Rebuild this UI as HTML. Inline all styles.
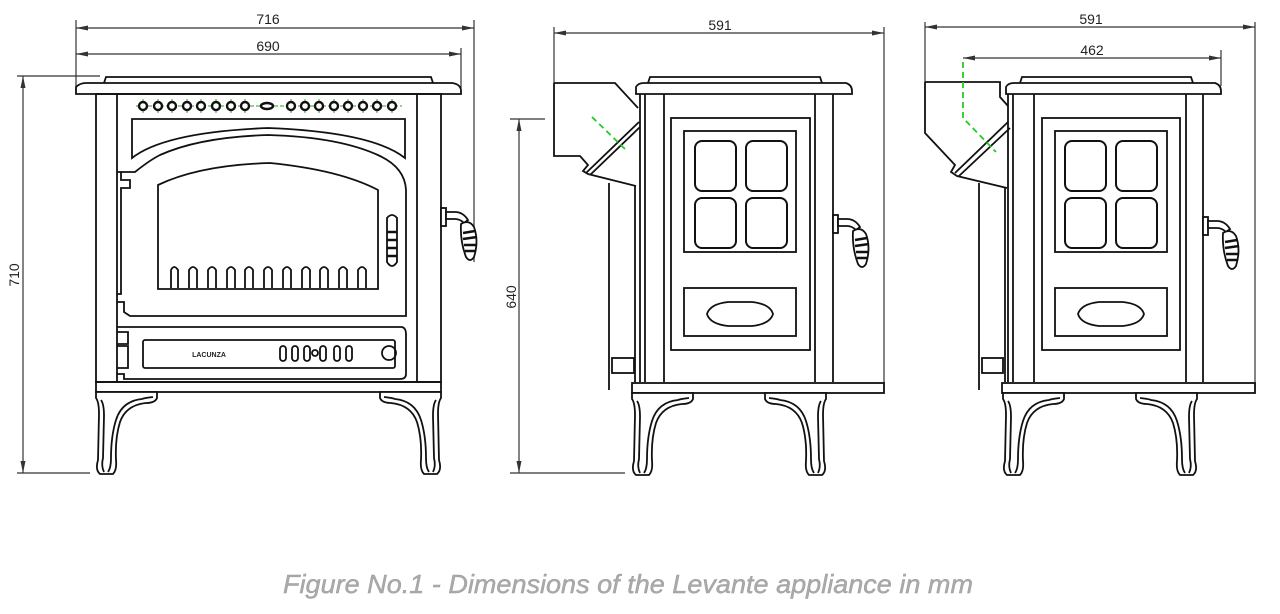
<!DOCTYPE html>
<html><head><meta charset="utf-8"><style>
html,body{margin:0;padding:0;background:#fff;}
svg{display:block;}
</style></head><body>
<svg width="1280" height="614" viewBox="0 0 1280 614" xmlns="http://www.w3.org/2000/svg">
<defs>
<g id="leg" fill="#fff" stroke="#111" stroke-width="1.8">
<path d="M0,0 L61,0 L61,6 Q59,11 50,11 Q30,13 24,30 Q19,46 20,68 Q21,78 17,82 L4,82 Q-1,78 2,68 L3,22 Q3,10 0,6 Z"/>
<path d="M8,80 Q5,74 7,66 L8,24 Q8,12 5,8" fill="none"/>
<path d="M57,5 Q48,6 46,7 Q26,9 20,28 Q15,44 15,66 Q15,76 12,80" fill="none"/>
</g>
<g id="handle" fill="#fff" stroke="#111" stroke-width="1.8">
<rect x="0" y="3" width="5" height="18"/>
<path d="M5,7 L14,7 Q22,7 27,15 L23,18 Q19,14 14,14 L5,14 Z"/>
<path d="M20,19 Q28,14 33,22 Q38,36 33,52 Q29,58 25,52 Q19,36 20,19 Z"/>
<path d="M22,28 L34,26 M22,34 L36,32 M23,40 L35,40 M24,46 L34,46" fill="none" stroke-width="2.5"/>
</g>
<g id="pane" fill="none" stroke="#111" stroke-width="2">
<rect x="0" y="0" width="41" height="50" rx="7"/>
</g>
</defs>

<g fill="none" stroke="#333" stroke-width="1.2">
<line x1="76" y1="20" x2="76" y2="92"/>
<line x1="474" y1="20" x2="474" y2="262"/>
<line x1="461" y1="48" x2="461" y2="88"/>
<line x1="76" y1="28" x2="474" y2="28"/>
<line x1="76" y1="54" x2="461" y2="54"/>
<line x1="17" y1="76" x2="100" y2="76"/>
<line x1="17" y1="473" x2="90" y2="473"/>
<line x1="23" y1="76" x2="23" y2="473"/>
</g>
<g fill="#333">
<path d="M76,28 l12,-2.5 v5 z"/><path d="M474,28 l-12,-2.5 v5 z"/>
<path d="M76,54 l12,-2.5 v5 z"/><path d="M461,54 l-12,-2.5 v5 z"/>
<path d="M23,76 l-2.5,12 h5 z"/><path d="M23,473 l-2.5,-12 h5 z"/>
<path d="M554,33 l12,-2.5 v5 z"/><path d="M884,33 l-12,-2.5 v5 z"/>
<path d="M519,119 l-2.5,12 h5 z"/><path d="M519,473 l-2.5,-12 h5 z"/>
<path d="M925,27 l12,-2.5 v5 z"/><path d="M1255,27 l-12,-2.5 v5 z"/>
<path d="M963,58 l12,-2.5 v5 z"/><path d="M1221,58 l-12,-2.5 v5 z"/>
</g>
<g font-family="Liberation Sans, sans-serif" font-size="14" fill="#222">
<text x="268" y="24" text-anchor="middle">716</text>
<text x="268" y="51" text-anchor="middle">690</text>
<text transform="translate(19,275) rotate(-90)" text-anchor="middle">710</text>
<text x="720" y="30" text-anchor="middle">591</text>
<text transform="translate(516,297) rotate(-90)" text-anchor="middle">640</text>
<text x="1091" y="24" text-anchor="middle">591</text>
<text x="1092" y="55" text-anchor="middle">462</text>
</g>

<!-- FRONT VIEW -->
<g fill="none" stroke="#111" stroke-width="1.8">
<path d="M104,83 L106,77 L431,77 L433,83"/>
<path d="M76,94 L76,87 Q80,83 86,83 L452,83 Q460,84 461,90 L461,94 Z"/>
<rect x="96" y="94" width="345" height="288"/>
<line x1="117" y1="94" x2="117" y2="382"/>
<line x1="417" y1="94" x2="417" y2="382"/>
<path d="M132,119 L405,119 L405,158 Q372,132 268,128 Q165,132 132,158 Z"/>
<path d="M121,172 L135,172 Q150,160 160,155 Q200,137 268,135 Q340,137 380,156 Q405,168 406,190 L406,316 L130,316 L124,312 L124,302 L117,302"/>
<path d="M117,172 L121,172 L121,180 L130,180 L130,188 L121,188 L121,294 L117,294"/>
<path d="M158,185 L158,289 L378,289 L378,190 Q340,170 270,163 Q200,165 158,185 Z"/>
<path d="M171,288 L171,270 Q174,264 178,270 L178,288 M189,288 L189,270 Q193,264 197,270 L197,288 M208,288 L208,270 Q212,264 216,270 L216,288 M227,288 L227,270 Q231,264 235,270 L235,288 M245,288 L245,270 Q249,264 253,270 L253,288 M264,288 L264,270 Q268,264 272,270 L272,288 M283,288 L283,270 Q287,264 291,270 L291,288 M302,288 L302,270 Q306,264 310,270 L310,288 M320,288 L320,270 Q324,264 328,270 L328,288 M339,288 L339,270 Q343,264 347,270 L347,288 M358,288 L358,270 Q362,264 366,270 L366,288"/>
<path d="M117,327 L402,327 Q406,328 406,334 L406,374 Q406,379 400,379 L130,379 L124,379 L124,374 L117,374"/>
<path d="M117,332 L128,332 L128,344 L117,344 M117,346 L128,346 L128,368 L117,368"/>
<rect x="143" y="340" width="252" height="28" rx="2"/>
<rect x="280" y="346" width="6" height="15" rx="3"/>
<rect x="292" y="346" width="6" height="15" rx="3"/>
<rect x="304" y="346" width="6" height="15" rx="3"/>
<circle cx="315" cy="353" r="3"/>
<rect x="320" y="346" width="6" height="15" rx="3"/>
<rect x="334" y="346" width="6" height="15" rx="3"/>
<rect x="346" y="346" width="6" height="15" rx="3"/>
<circle cx="389" cy="353" r="7"/>
<path d="M387,218 Q392,212 397,218 L397,262 Q392,270 387,262 Z"/>
<path d="M387,232 L397,232 M387,240 L397,240 M387,248 L397,248 M387,256 L397,256" stroke-width="2.5"/>
<rect x="96" y="382" width="345" height="10"/>
</g>
<text x="209" y="357" font-family="Liberation Sans, sans-serif" font-size="7" fill="#222" text-anchor="middle" font-weight="bold">LACUNZA</text>
<use href="#handle" x="441" y="205"/>
<use href="#leg" x="96" y="392"/>
<use href="#leg" transform="translate(441,392) scale(-1,1)"/>
<g stroke="#2a2" stroke-width="1" fill="none" stroke-dasharray="4,2">
<line x1="136" y1="106" x2="402" y2="106"/>
</g>
<g stroke="#2a2" stroke-width="1">
<path d="M143,99v14M158,99v14M172,99v14M187,99v14M201,99v14M216,99v14M231,99v14M245,99v14M291,99v14M305,99v14M319,99v14M334,99v14M348,99v14M363,99v14M377,99v14M392,99v14"/>
</g>
<g stroke="#111" stroke-width="2.4" fill="#fff">
<circle cx="143" cy="106" r="4"/><circle cx="158" cy="106" r="4"/><circle cx="172" cy="106" r="4"/><circle cx="187" cy="106" r="4"/><circle cx="201" cy="106" r="4"/><circle cx="216" cy="106" r="4"/><circle cx="231" cy="106" r="4"/><circle cx="245" cy="106" r="4"/>
<ellipse cx="267" cy="106" rx="6" ry="3"/>
<circle cx="291" cy="106" r="4"/><circle cx="305" cy="106" r="4"/><circle cx="319" cy="106" r="4"/><circle cx="334" cy="106" r="4"/><circle cx="348" cy="106" r="4"/><circle cx="363" cy="106" r="4"/><circle cx="377" cy="106" r="4"/><circle cx="392" cy="106" r="4"/>
</g>

<!-- SIDE VIEW 1 -->
<g fill="none" stroke="#333" stroke-width="1.2">
<line x1="554" y1="27" x2="554" y2="83"/>
<line x1="884" y1="27" x2="884" y2="385"/>
<line x1="554" y1="33" x2="884" y2="33"/>
<line x1="510" y1="119" x2="545" y2="119"/>
<line x1="510" y1="473" x2="625" y2="473"/>
<line x1="519" y1="119" x2="519" y2="473"/>
</g>
<g fill="none" stroke="#111" stroke-width="1.8">
<path d="M554,83 L615,83 L638,108 M554,83 L554,156 L580,156 L588,165 L583,171 L588,174 L636,186"/>
<path d="M586,173 L639,122 M590,175 L640,127"/>
<path d="M648,83 L650,77 L820,77 L822,83"/>
<path d="M636,94 L636,87 Q638,83 644,83 L846,83 Q852,85 852,91 L852,94 Z"/>
<line x1="640" y1="94" x2="640" y2="382"/><line x1="645" y1="94" x2="645" y2="382"/>
<line x1="664" y1="94" x2="664" y2="382"/><line x1="815" y1="94" x2="815" y2="382"/>
<line x1="833" y1="94" x2="833" y2="382"/>
<line x1="609" y1="183" x2="609" y2="390"/><line x1="635" y1="186" x2="635" y2="382"/>
<rect x="612" y="358" width="22" height="15"/>
<rect x="671" y="118" width="139" height="232"/>
<rect x="684" y="131" width="112" height="121"/>
<rect x="684" y="288" width="112" height="48"/>
<path d="M707,314 Q710,304 728,302 L752,302 Q770,304 773,314 Q770,324 752,326 L728,326 Q710,324 707,314 Z"/>
<rect x="632" y="383" width="252" height="10"/>
</g>
<use href="#pane" x="695" y="141"/><use href="#pane" x="746" y="141"/>
<use href="#pane" x="695" y="198"/><use href="#pane" x="746" y="198"/>
<use href="#handle" x="833" y="212"/>
<use href="#leg" x="632" y="393"/>
<use href="#leg" transform="translate(826,393) scale(-1,1)"/>
<line x1="592" y1="117" x2="625" y2="149" stroke="#2c2" stroke-width="1.8" stroke-dasharray="6,4"/>

<!-- SIDE VIEW 2 -->
<g fill="none" stroke="#333" stroke-width="1.2">
<line x1="925" y1="22" x2="925" y2="82"/>
<line x1="1255" y1="22" x2="1255" y2="390"/>
<line x1="925" y1="27" x2="1255" y2="27"/>
<line x1="1221" y1="50" x2="1221" y2="86"/>
<line x1="963" y1="58" x2="1221" y2="58"/>
</g>
<g fill="none" stroke="#111" stroke-width="1.8">
<path d="M925,82 L1000,82 L1000,97 L1008,106 M925,82 L925,133 L955,165 L951,172 L957,176 L1007,188"/>
<path d="M955,173 L1008,122 M959,176 L1010,128"/>
<path d="M1020,83 L1022,77 L1191,77 L1193,83"/>
<path d="M1006,94 L1006,87 Q1008,83 1014,83 L1215,83 Q1221,85 1221,91 L1221,94 Z"/>
<line x1="1008" y1="94" x2="1008" y2="382"/><line x1="1013" y1="94" x2="1013" y2="382"/>
<line x1="1034" y1="94" x2="1034" y2="382"/><line x1="1186" y1="94" x2="1186" y2="382"/>
<line x1="1203" y1="94" x2="1203" y2="382"/>
<line x1="979" y1="183" x2="979" y2="390"/><line x1="1005" y1="188" x2="1005" y2="382"/>
<rect x="982" y="358" width="21" height="15"/>
<rect x="1042" y="118" width="138" height="232"/>
<rect x="1055" y="131" width="112" height="121"/>
<rect x="1055" y="288" width="112" height="48"/>
<path d="M1078,314 Q1081,304 1099,302 L1123,302 Q1141,304 1144,314 Q1141,324 1123,326 L1099,326 Q1081,324 1078,314 Z"/>
<rect x="1002" y="383" width="253" height="10"/>
</g>
<use href="#pane" x="1065" y="141"/><use href="#pane" x="1116" y="141"/>
<use href="#pane" x="1065" y="198"/><use href="#pane" x="1116" y="198"/>
<use href="#handle" x="1203" y="214"/>
<use href="#leg" x="1003" y="393"/>
<use href="#leg" transform="translate(1197,393) scale(-1,1)"/>
<path d="M963,62 L963,118 L996,152" fill="none" stroke="#2c2" stroke-width="1.8" stroke-dasharray="6,4"/>

<text x="628" y="593" text-anchor="middle" font-family="Liberation Sans, sans-serif" font-style="italic" font-size="26" fill="#aaa" stroke="#999" stroke-width="0.4" textLength="690" lengthAdjust="spacingAndGlyphs">Figure No.1 - Dimensions of the Levante appliance in mm</text>
</svg>
</body></html>
